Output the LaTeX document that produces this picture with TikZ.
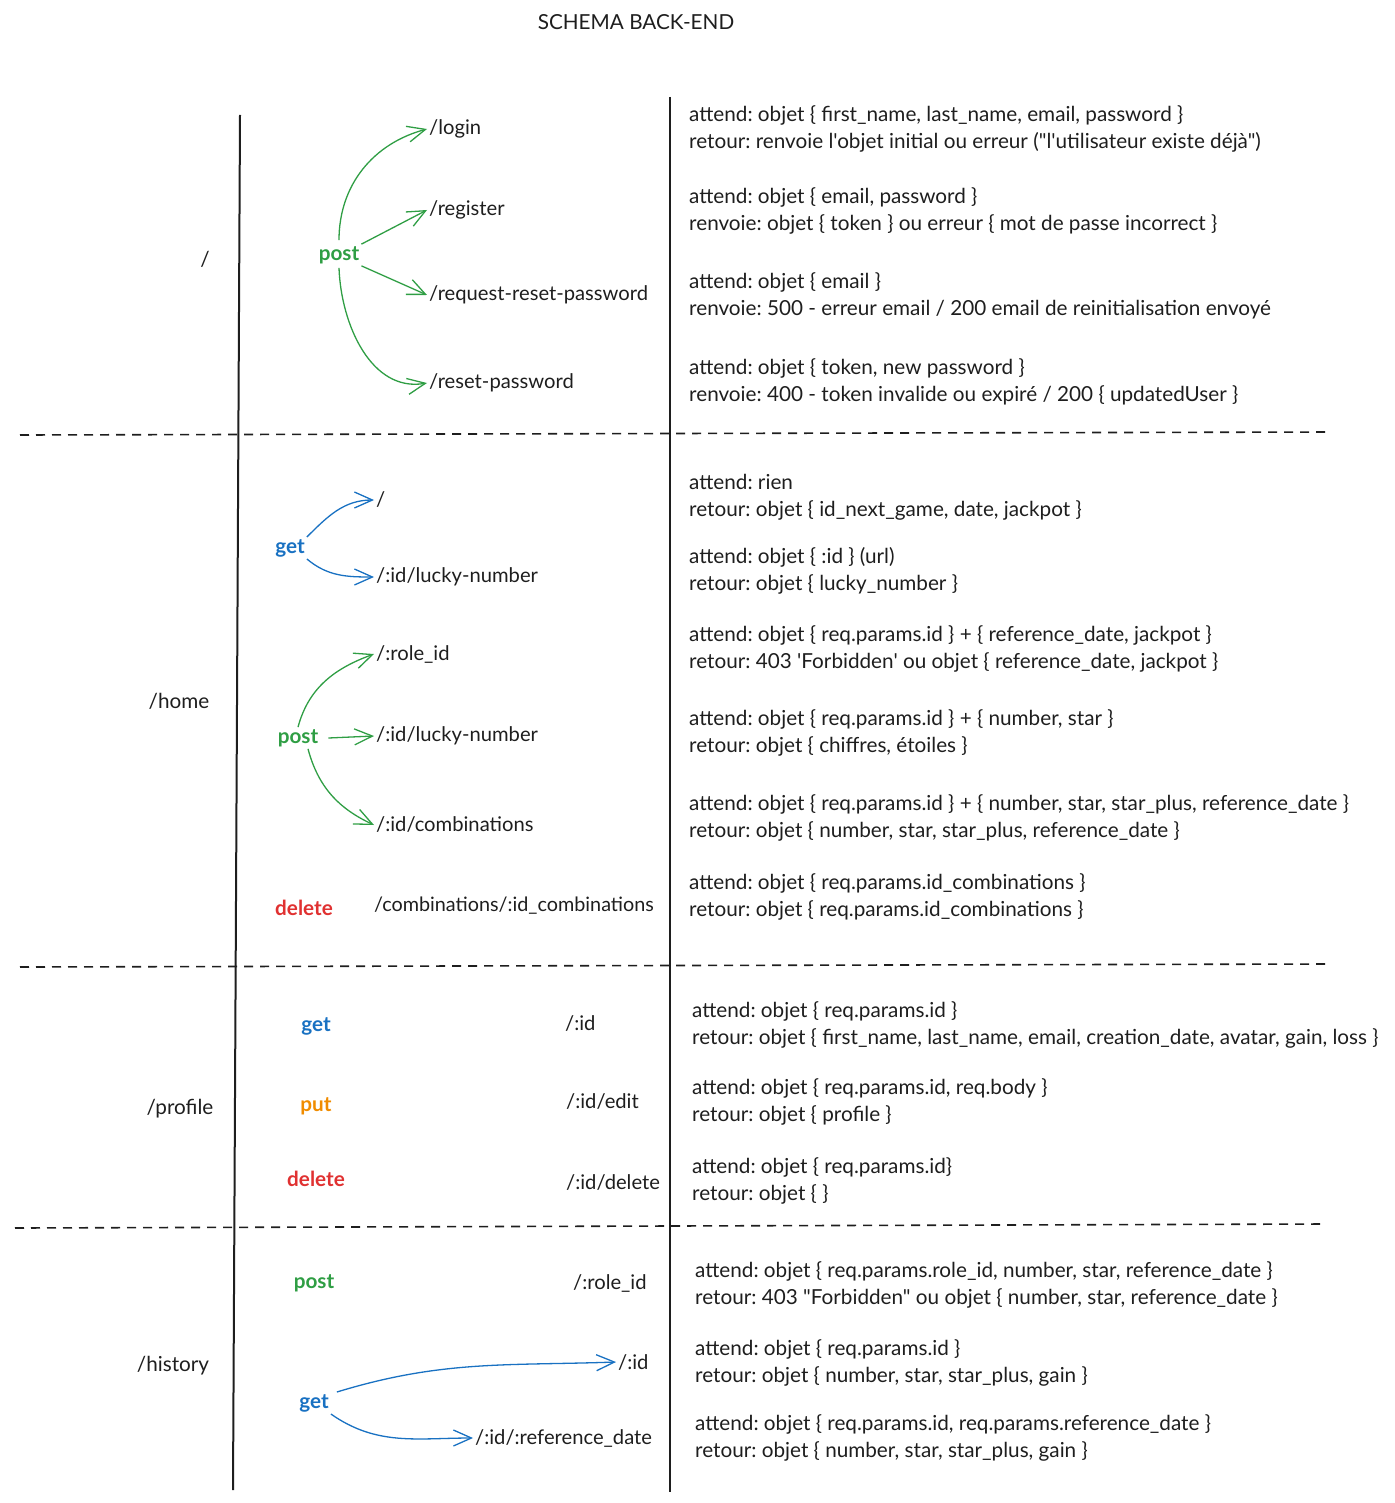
\documentclass[tikz,border=0pt]{standalone}
\usepackage{fontspec}
\setmainfont{Lato}[Ligatures=TeXOff]
\usepackage{tikz}
\usetikzlibrary{arrows.meta}
\frenchspacing

\definecolor{xgreen}{HTML}{2F9E44}
\definecolor{xblue}{HTML}{1971C2}
\definecolor{xred}{HTML}{E03131}
\definecolor{xorange}{HTML}{F08C00}
\definecolor{xink}{HTML}{1E1E1E}

\begin{document}
\begin{tikzpicture}[x=1pt, y=-1pt,
    every node/.style={font=\fontsize{20.7}{27}\selectfont, text=xink, inner sep=2pt},
    route/.style={anchor=west, font=\fontsize{20.2}{27}\selectfont},
    info/.style={anchor=west, align=left},
    verb/.style={font=\fontsize{20.7}{27}\selectfont\bfseries},
    sep/.style={line width=2pt, xink},
    divider/.style={line width=1.6pt, xink, dash pattern=on 9pt off 7pt},
    garrow/.style={->, >={Straight Barb[length=18pt, width=16pt]}, line width=1.3pt, draw=xgreen},
    barrow/.style={->, >={Straight Barb[length=18pt, width=16pt]}, line width=1.3pt, draw=xblue}]

\useasboundingbox (0,0) rectangle (1394,1503);

% ---------------- title + frame ----------------
\node (title) at (636,22) {SCHEMA BACK-END};

\draw[sep] (240,115) -- (233,1490);
\draw[sep] (670,97) -- (670,1492);

\draw[divider] (20,435) -- (1330,432);
\draw[divider] (20,967) -- (1330,964);
\draw[divider] (15,1228) -- (1325,1224);

% =========================================================
% (1) /
% =========================================================
\node (root) at (205,259) {/};
\node[verb, text=xgreen] (post1) at (339,255) {post};

\node[route] (login)   at (427,129) {/login};
\node[route] (register) at (427,210) {/register};
\node[route] (request) at (427,295) {/request-reset-password};
\node[route] (reset)   at (427,383) {/reset-password};

\draw[garrow] ([yshift=4pt]post1.north) to[out=90, in=195] (login.west);
\draw[garrow] (post1.north east) -- (register.west);
\draw[garrow] (post1.south east) -- (request.west);
\draw[garrow] ([yshift=-2pt]post1.south) to[out=-88, in=190] (reset.west);

\node[info] (i1) at (687,128.5) {attend: objet \{ first\_name, last\_name, email, password \}\\retour: renvoie l'objet initial ou erreur ("l'utilisateur existe déjà")};
\node[info] (i2) at (687,210.5) {attend: objet \{ email, password \}\\renvoie: objet \{ token \} ou erreur \{ mot de passe incorrect \}};
\node[info] (i3) at (687,295.5) {attend: objet \{ email \}\\renvoie: 500 - erreur email / 200 email de reinitialisation envoyé};
\node[info] (i4) at (687,381.5) {attend: objet \{ token, new password \}\\renvoie: 400 - token invalide ou expiré / 200 \{ updatedUser \}};

% =========================================================
% (2) /home
% =========================================================
\node (home) at (179,701) {/home};
\node[verb, text=xblue] (get2) at (290,548) {get};
\node[verb, text=xgreen] (post2) at (298,738) {post};
\node[verb, text=xred] (del2) at (304,908) {delete};

\node[route] (hslash) at (374,500) {/};
\node[route] (hlucky) at (374,577) {/:id/lucky-number};
\node[route] (hrole)  at (374,654) {/:role\_id};
\node[route] (hpick)  at (374,736) {/:id/lucky-number};
\node[route] (hcomb)  at (374,825) {/:id/combinations};
\node[route, font=\fontsize{19.8}{27}\selectfont] (hdel) at (372,906) {/combinations/:id\_combinations};

\draw[barrow] (get2.north east) to[out=45, in=180] (hslash.west);
\draw[barrow] (get2.south east) to[out=-40, in=180] (hlucky.west);
\draw[garrow] (post2.north) to[out=75, in=200] (hrole.west);
\draw[garrow] ([xshift=8pt]post2.east) -- (hpick.west);
\draw[garrow] ([xshift=10pt]post2.south) to[out=-75, in=155] (hcomb.west);

\node[info] (i5)  at (687,497.5) {attend: rien\\retour: objet \{ id\_next\_game, date, jackpot \}};
\node[info] (i6)  at (687,570.5) {attend: objet \{ :id \} (url)\\retour: objet \{ lucky\_number \}};
\node[info] (i7)  at (687,648.5) {attend: objet \{ req.params.id \} + \{ reference\_date, jackpot \}\\retour: 403 'Forbidden' ou objet \{ reference\_date, jackpot \}};
\node[info] (i8)  at (687,732.5) {attend: objet \{ req.params.id \} + \{ number, star \}\\retour: objet \{ chiffres, étoiles \}};
\node[info] (i9)  at (687,817.5) {attend: objet \{ req.params.id \} + \{ number, star, star\_plus, reference\_date \}\\retour: objet \{ number, star, star\_plus, reference\_date \}};
\node[info] (i10) at (687,896.5) {attend: objet \{ req.params.id\_combinations \}\\retour: objet \{ req.params.id\_combinations \}};

% =========================================================
% (3) /profile
% =========================================================
\node (profile) at (180,1109) {/profile};
\node[verb, text=xblue]   (get3) at (316,1026) {get};
\node[verb, text=xorange] (put3) at (316,1106) {put};
\node[verb, text=xred]    (del3) at (316,1179) {delete};

\node[route] (pid)   at (563,1024) {/:id};
\node[route] (pedit) at (564,1102) {/:id/edit};
\node[route] (pdel)  at (564,1183) {/:id/delete};

\node[info] (i11) at (690,1024.5) {attend: objet \{ req.params.id \}\\retour: objet \{ first\_name, last\_name, email, creation\_date, avatar, gain, loss \}};
\node[info] (i12) at (690,1101.5) {attend: objet \{ req.params.id, req.body \}\\retour: objet \{ profile \}};
\node[info] (i13) at (690,1180.5) {attend: objet \{ req.params.id\}\\retour: objet \{ \}};

% =========================================================
% (4) /history
% =========================================================
\node (history) at (173,1366) {/history};
\node[verb, text=xgreen] (post4) at (314,1283) {post};
\node[verb, text=xblue]  (get4)  at (314,1403) {get};

\node[route] (hrid)  at (571,1283) {/:role\_id};
\node[route] (hid)   at (616,1362) {/:id};
\node[route] (hdate) at (473,1438) {/:id/:reference\_date};

\draw[barrow] ([xshift=6pt]get4.north east) to[out=17, in=182] (hid.west);
\draw[barrow] (get4.south east) to[out=-35, in=180] (hdate.west);

\node[info] (i14) at (693,1284.5) {attend: objet \{ req.params.role\_id, number, star, reference\_date \}\\retour: 403 "Forbidden" ou objet \{ number, star, reference\_date \}};
\node[info] (i15) at (693,1362.5) {attend: objet \{ req.params.id \}\\retour: objet \{ number, star, star\_plus, gain \}};
\node[info] (i16) at (693,1437.5) {attend: objet \{ req.params.id, req.params.reference\_date \}\\retour: objet \{ number, star, star\_plus, gain \}};

\end{tikzpicture}
\end{document}
